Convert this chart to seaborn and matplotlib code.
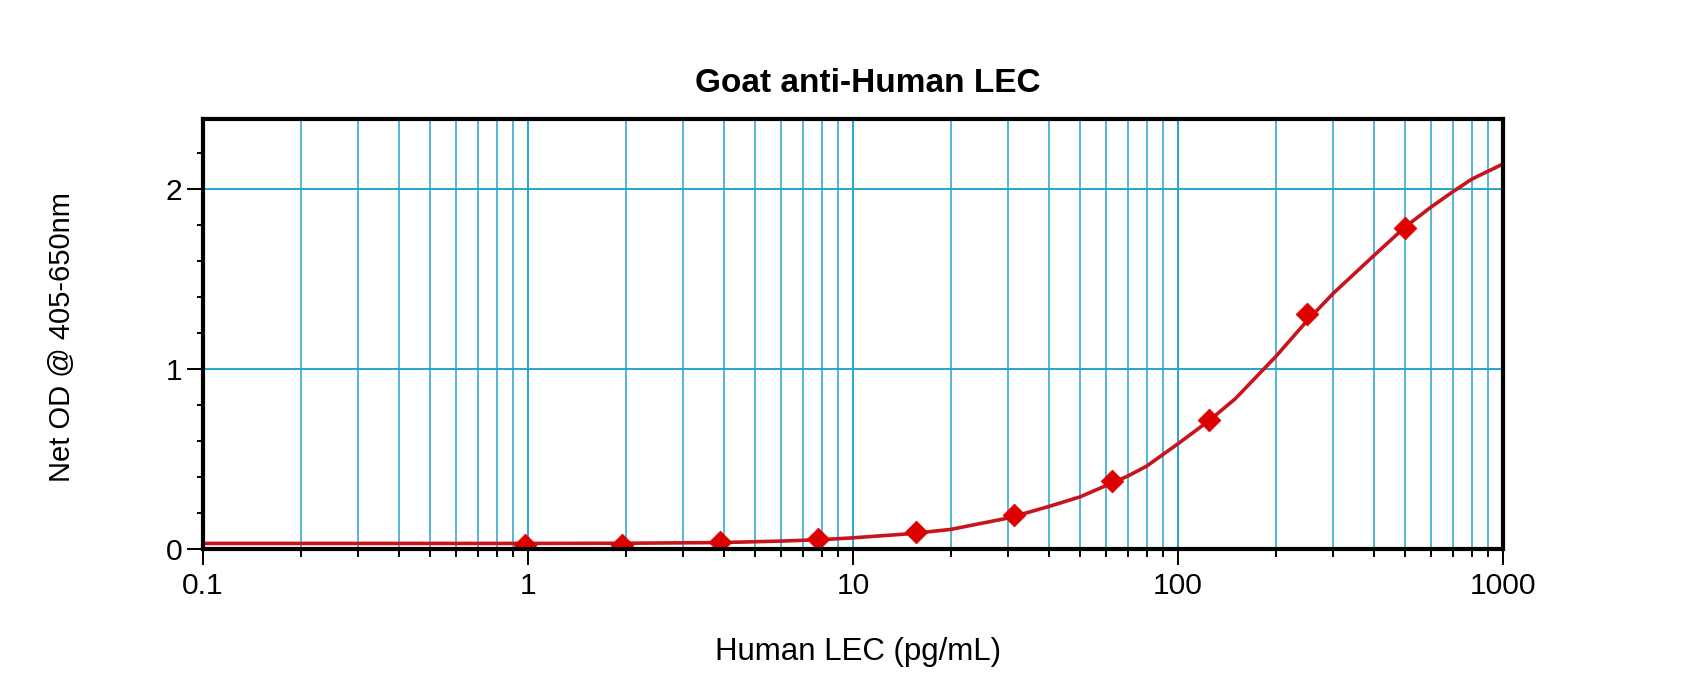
import numpy as np
import pandas as pd
import matplotlib
matplotlib.use("Agg")
import matplotlib.pyplot as plt
from matplotlib.ticker import LogLocator, FixedLocator, FuncFormatter, MultipleLocator, NullFormatter
import seaborn as sns

# ---- data ----
std_conc = [0.977, 1.953, 3.906, 7.813, 15.625, 31.25, 62.5, 125, 250, 500]
std_od = [0.022, 0.022, 0.037, 0.054, 0.096, 0.190, 0.376, 0.715, 1.305, 1.786]

curve_conc = [0.1, 0.5, 1, 2, 4, 6, 8, 10, 15, 20, 30, 40, 50, 60, 70, 80,
              100, 125, 150, 200, 250, 300, 400, 500, 600, 700, 800, 1000]
curve_od = [0.031, 0.031, 0.031, 0.032, 0.036, 0.044, 0.052, 0.062, 0.085, 0.109,
            0.172, 0.236, 0.290, 0.352, 0.405, 0.460, 0.585, 0.715, 0.835, 1.070,
            1.270, 1.420, 1.630, 1.790, 1.900, 1.985, 2.055, 2.140]

x_ticks = [0.1, 1, 10, 100, 1000]
y_ticks = [0, 1, 2]

title = "Goat anti-Human LEC"
x_label = "Human LEC (pg/mL)"
y_label = "Net OD @ 405-650nm"

# ---- style ----
sns.set_style("ticks")
plt.rcParams['font.family'] = ['Liberation Sans', 'DejaVu Sans']
plt.rcParams['text.color'] = 'black'
plt.rcParams['axes.labelcolor'] = 'black'
plt.rcParams['xtick.color'] = 'black'
plt.rcParams['ytick.color'] = 'black'

grid_col = '#27a3cf'
line_col = '#c8141c'
mark_col = '#dc0000'

fig = plt.figure(figsize=(17, 6.99), dpi=100)
ax = fig.add_axes([203/1700, 1 - 549/699, 1300/1700, 430/699])

curve_df = pd.DataFrame({"conc": curve_conc, "od": curve_od})
std_df = pd.DataFrame({"conc": std_conc, "od": std_od})

ax.set_xscale('log')
sns.lineplot(data=curve_df, x="conc", y="od", ax=ax, color=line_col, lw=2.6,
             sort=True, zorder=3)
sns.scatterplot(data=std_df, x="conc", y="od", ax=ax, marker='D', s=135,
                color=mark_col, edgecolor=mark_col, linewidth=0.5, zorder=4)

ax.set_xlim(0.1, 1000)
ax.set_ylim(0, 2.39)

ax.xaxis.set_major_locator(FixedLocator(x_ticks))
ax.xaxis.set_minor_locator(LogLocator(base=10, subs=np.arange(2, 10)))
ax.xaxis.set_major_formatter(FuncFormatter(lambda v, p: f"{v:g}"))
ax.xaxis.set_minor_formatter(NullFormatter())
ax.yaxis.set_major_locator(FixedLocator(y_ticks))
ax.yaxis.set_minor_locator(MultipleLocator(0.2))

ax.grid(which='major', axis='both', color=grid_col, lw=1.4, zorder=0)
ax.grid(which='minor', axis='x', color=grid_col, lw=1.1, zorder=0)
ax.set_axisbelow(True)

for s in ax.spines.values():
    s.set_visible(True)
    s.set_linewidth(3)
    s.set_color('black')
    s.set_zorder(5)

ax.tick_params(axis='both', which='major', direction='out', length=11.5, width=1.4,
               colors='black', labelcolor='black', labelsize=21.6)
ax.tick_params(axis='y', which='major', pad=3.5)
ax.tick_params(axis='x', which='major', pad=5)
ax.tick_params(axis='y', which='minor', direction='out', length=4.5, width=1.4, colors='black')
ax.tick_params(axis='x', which='minor', direction='out', length=6, width=1.4, colors='black')
ax.tick_params(top=False, right=False, which='both')

ax.set_xlabel(x_label, fontsize=22.5, color='black')
ax.set_ylabel(y_label, fontsize=21, color='black')
ax.xaxis.set_label_coords(0.504, -0.205)
ax.yaxis.set_label_coords(-0.098, 0.493)

fig.text(868/1700, 1 - 83.5/699, title, ha='center', va='center',
         fontsize=24, fontweight='bold', color='black')

fig.savefig("out.png", dpi=100, facecolor='white')
